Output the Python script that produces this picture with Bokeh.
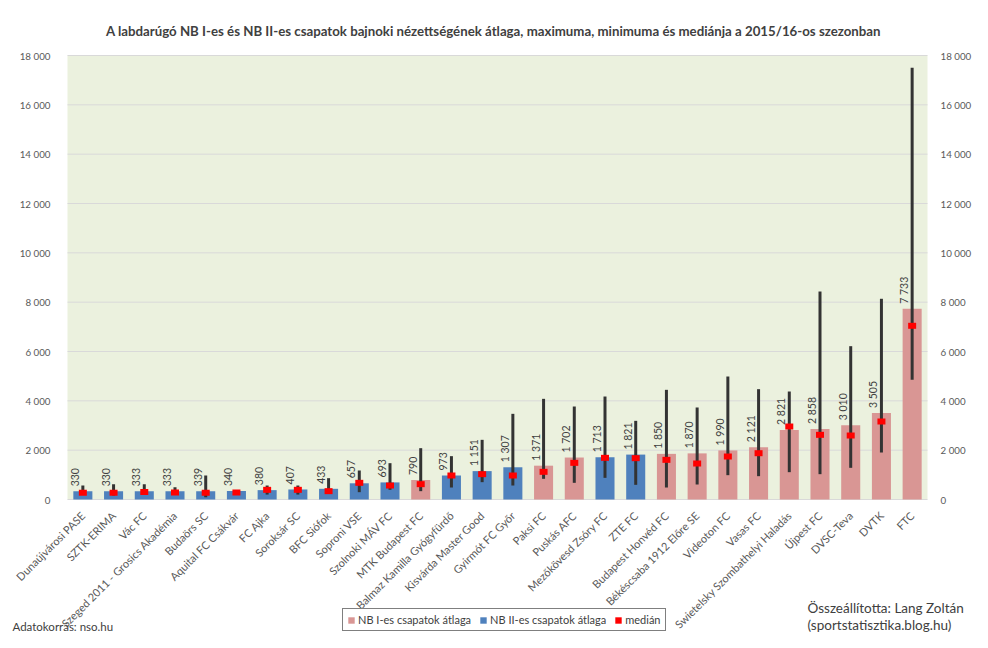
from math import pi
from bokeh.plotting import figure
from bokeh.models import (ColumnDataSource, Range1d, LinearAxis, FixedTicker,
                          CustomJSTickFormatter, Legend, LegendItem, Label, BoxAnnotation)
from bokeh.core.properties import value
from bokeh.embed import file_html
from bokeh.resources import INLINE

teams = ["Dunaújvárosi PASE", "SZTK-ERIMA", "Vác FC", "Szeged 2011 - Grosics Akadémia",
         "Budaörs SC", "Aquital FC Csákvár", "FC Ajka", "Soroksár SC", "BFC Siófok",
         "Soproni VSE", "Szolnoki MÁV FC", "MTK Budapest FC", "Balmaz Kamilla Gyógyfürdő",
         "Kisvárda Master Good", "Gyirmót FC Győr", "Paksi FC", "Puskás AFC",
         "Mezőkövesd Zsóry FC", "ZTE FC", "Budapest Honvéd FC", "Békéscsaba 1912 Előre SE",
         "Videoton FC", "Vasas FC", "Swietelsky Szombathelyi Haladás", "Újpest FC",
         "DVSC-Teva", "DVTK", "FTC"]
league = ["II", "II", "II", "II", "II", "II", "II", "II", "II", "II", "II", "I", "II",
          "II", "II", "I", "I", "II", "II", "I", "I", "I", "I", "I", "I", "I", "I", "I"]
mean = [330, 330, 333, 333, 339, 340, 380, 407, 433, 657, 693, 790, 973, 1151, 1307,
        1371, 1702, 1713, 1821, 1850, 1870, 1990, 2121, 2821, 2858, 3010, 3505, 7733]
maximum = [567, 620, 620, 500, 973, 380, 567, 567, 865, 1176, 1473, 2081, 1757, 2419,
           3473, 4081, 3770, 4175, 3189, 4446, 3730, 4986, 4473, 4378, 8432, 6216, 8137, 17500]
minimum = [200, 160, 250, 250, 95, 250, 200, 200, 250, 297, 392, 338, 486, 703, 567, 838,
           676, 878, 595, 486, 608, 986, 946, 1108, 1027, 1284, 1905, 4852]
median = [270, 270, 300, 284, 270, 284, 392, 392, 338, 676, 567, 622, 973, 1027, 973,
          1122, 1486, 1689, 1676, 1608, 1459, 1743, 1877, 2959, 2622, 2594, 3162, 7042]
y_ticks = [0, 2000, 4000, 6000, 8000, 10000, 12000, 14000, 16000, 18000]

title_text = ("A labdarúgó NB I-es és NB II-es csapatok bajnoki nézettségének átlaga, "
              "maximuma, minimuma és mediánja a 2015/16-os szezonban")
legend_labels = ["NB I-es csapatok átlaga", "NB II-es csapatok átlaga", "medián"]
source_note = "Adatokorrás: nso.hu"
author_lines = ["Összeállította: Lang Zoltán", "(sportstatisztika.blog.hu)"]

FONT = "Lato"
PINK = "#d99694"
BLUE = "#4f81bd"
GREEN = "#ebf1de"
TXT = "#595959"
DARK = "#404040"

# canvas geometry (pixels)
W, H = 972, 632
AREA_LEFT, AREA_RIGHT = 67, 927      # plot area (category span)
TOP_PX, BOTTOM_PX = 55, H - 499      # plot area top / bottom offsets
PLOT_H = H - TOP_PX - BOTTOM_PX
ymax = y_ticks[-1]
y_lo = -ymax * BOTTOM_PX / PLOT_H
y_hi = ymax + ymax * TOP_PX / PLOT_H
n = len(teams)
cat_px = (AREA_RIGHT - AREA_LEFT) / n
x_lo = -AREA_LEFT / cat_px
x_hi = n + (W - AREA_RIGHT) / cat_px

# category slots: one unit per team, centred at i + 0.5
xpos = [i + 0.5 for i in range(n)]


def fmt(v):
    return f"{v:,}".replace(",", " ")


def subset(lg):
    idx = [i for i, l in enumerate(league) if l == lg]
    return ColumnDataSource(dict(x=[xpos[i] for i in idx], mean=[mean[i] for i in idx]))


p = figure(width=W, height=H, x_range=Range1d(x_lo, x_hi), y_range=Range1d(y_lo, y_hi),
           output_backend="svg", toolbar_location=None, min_border=0)
p.title.visible = False
p.background_fill_color = "white"
p.border_fill_color = "white"
p.outline_line_color = None
p.xgrid.visible = False
p.ygrid.visible = False

# plot-area background and gridlines limited to the category span
p.add_layout(BoxAnnotation(left=0, right=n, bottom=y_ticks[0], top=ymax,
                           fill_color=GREEN, fill_alpha=1, line_color=None,
                           level="underlay"))
p.segment(x0=[0] * len(y_ticks), x1=[n] * len(y_ticks), y0=y_ticks, y1=y_ticks,
          line_color="#d9d9d9", line_width=1)

src = ColumnDataSource(dict(x=xpos, mean=mean, maximum=maximum, minimum=minimum,
                            median=median, lab=[fmt(v) for v in mean]))

r1 = p.vbar(x="x", top="mean", width=0.62, source=subset("I"), fill_color=PINK,
            line_color=None)
r2 = p.vbar(x="x", top="mean", width=0.62, source=subset("II"), fill_color=BLUE,
            line_color=None)
p.segment(x0="x", y0="minimum", x1="x", y1="maximum", source=src,
          line_color="#333333", line_width=3)
r3 = p.rect(x="x", y="median", width=8, height=6, width_units="screen",
            height_units="screen", source=src, fill_color="#ff0000", line_color=None)
p.text(x="x", y="mean", text="lab", source=src, angle=pi / 2, x_offset=-8, y_offset=-5,
       text_align="left", text_baseline="middle", text_font=value(FONT),
       text_font_size="10.5px", text_color=DARK)

tick_js = "return String(tick).replace(/\\B(?=(\\d{3})+(?!\\d))/g, ' ');"
yaxis = p.yaxis[0]
yaxis.ticker = FixedTicker(ticks=y_ticks)
yaxis.formatter = CustomJSTickFormatter(code=tick_js)
yaxis.fixed_location = 0
right = LinearAxis(ticker=FixedTicker(ticks=y_ticks),
                   formatter=CustomJSTickFormatter(code=tick_js))
right.fixed_location = n
p.add_layout(right, "right")
for ax, so in ((yaxis, 11), (right, 7)):
    ax.axis_line_color = None
    ax.major_tick_line_color = None
    ax.minor_tick_line_color = None
    ax.major_label_text_font = FONT
    ax.major_label_text_font_size = "9.75px"
    ax.major_label_text_color = TXT
    ax.major_label_standoff = so

xaxis = p.xaxis[0]
xaxis.ticker = FixedTicker(ticks=xpos)
xaxis.major_label_overrides = {x: t for x, t in zip(xpos, teams)}
xaxis.fixed_location = 0
xaxis.axis_line_color = None
xaxis.major_tick_line_color = None
xaxis.minor_tick_line_color = None
xaxis.major_label_orientation = pi / 4
xaxis.major_label_text_font = FONT
xaxis.major_label_text_font_size = "11px"
xaxis.major_label_text_color = TXT
xaxis.major_label_standoff = 8

legend = Legend(items=[LegendItem(label=legend_labels[0], renderers=[r1]),
                       LegendItem(label=legend_labels[1], renderers=[r2]),
                       LegendItem(label=legend_labels[2], renderers=[r3])],
                orientation="horizontal", location=(342, 1),
                border_line_color="black", border_line_width=1,
                background_fill_color="white", background_fill_alpha=1,
                label_text_font=FONT, label_text_font_size="11px",
                label_text_color=DARK, glyph_width=8, glyph_height=8, label_height=13,
                label_standoff=3, spacing=8, padding=4, margin=0)
p.add_layout(legend, "center")

# (text, canvas x, canvas y of text middle, size, style, align)
texts = [(title_text, 493, 30, "13.25px", "bold", "center"),
         (source_note, 12, 626, "11.5px", "normal", "left"),
         (author_lines[0], 807, 607, "13.5px", "normal", "left"),
         (author_lines[1], 807, 624, "13.5px", "normal", "left")]
for txt, cx, cy, size, style, align in texts:
    p.add_layout(Label(x=cx, y=H - cy, x_units="screen", y_units="screen",
                       text=txt, text_font=FONT, text_font_size=size,
                       text_font_style=style, text_color=DARK, text_baseline="middle",
                       text_align=align))

open("out.html", "w").write(file_html(p, INLINE))
